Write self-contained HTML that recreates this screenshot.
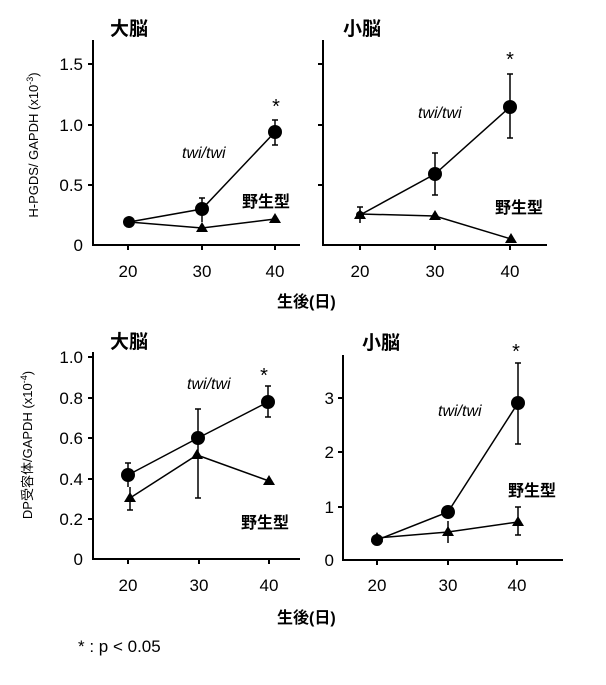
<!DOCTYPE html><html><head><meta charset="utf-8"><style>body{margin:0;background:#fff}svg{display:block}text{font-family:"Liberation Sans","Noto Sans CJK JP",sans-serif;fill:#000}</style></head><body>
<svg width="606" height="685" viewBox="0 0 606 685">
<g stroke="#000" fill="none" stroke-width="2">
<path d="M93 40V245H300"/><path d="M323 40V245H547"/>
<path d="M93 352V559H300"/><path d="M343 355V560H563"/>
<path d="M88 64h5M88 125h5M88 185h5M128 245v5M202 245v5M275 245v5" />
<path d="M318 64h5M318 125h5M318 185h5M360 245v5M435 245v5M510 245v5"/>
<path d="M88 357h5M88 398h5M88 438h5M88 479h5M88 519h5M128 559v5M199 559v5M269 559v5"/>
<path d="M338 398h5M338 452h5M338 507h5M377 560v5M448 560v5M517 560v5"/>
</g>
<g stroke="#000" fill="none" stroke-width="1.5">
<polyline points="129,222 202,209 275,132"/><polyline points="129,222 202,228 275,219"/>
<path d="M202 198v24M199 198h6M275 120v25M272 120h6M272 145h6"/>
<polyline points="360,215 435,174 510,107"/><polyline points="360,214 435,216 511,239"/>
<path d="M435 153v42M432 153h6M432 195h6M510 74v64M507 74h6M507 138h6M360 207v16M357 207h6"/>
<polyline points="128,475 198,438 268,402"/><polyline points="130,498 197,455 269,481"/>
<path d="M128 463v24M125 463h6M198 409v89M195 409h6M195 498h6M268 386v31M265 386h6M265 417h6M130 487v23M127 510h6"/>
<polyline points="377,540 448,512 518,403"/><polyline points="377,538 448,532 518,522"/>
<path d="M518 363v81M515 363h6M515 444h6M448 521v22M518 507v28M515 507h6M515 535h6"/>
</g>
<g fill="#000">
<circle cx="129" cy="222" r="6"/><circle cx="202" cy="209" r="7"/><circle cx="275" cy="132" r="7"/>
<polygon points="202,222 208,232 196,232"/><polygon points="275,213 281,223 269,223"/>
<circle cx="360" cy="215" r="4"/><circle cx="435" cy="174" r="7"/><circle cx="510" cy="107" r="7"/>
<polygon points="360,209 366,219 354,219"/><polygon points="435,210 441,220 429,220"/><polygon points="511,233 517,243 505,243"/>
<circle cx="128" cy="475" r="7"/><circle cx="198" cy="438" r="7"/><circle cx="268" cy="402" r="7"/>
<polygon points="130,492 136,502 124,502"/><polygon points="197,449 203,459 191,459"/><polygon points="269,475 275,485 263,485"/>
<circle cx="377" cy="540" r="6"/><circle cx="448" cy="512" r="7"/><circle cx="518" cy="403" r="7"/>
<polygon points="377,532 383,542 371,542"/><polygon points="448,526 454,536 442,536"/><polygon points="518,516 524,526 512,526"/>
</g>
<g font-size="17" text-anchor="end">
<text x="83" y="70">1.5</text><text x="83" y="131">1.0</text><text x="83" y="191">0.5</text><text x="83" y="251">0</text>
<text x="83" y="363">1.0</text><text x="83" y="404">0.8</text><text x="83" y="444">0.6</text><text x="83" y="485">0.4</text><text x="83" y="525">0.2</text><text x="83" y="565">0</text>
<text x="334" y="404">3</text><text x="334" y="458">2</text><text x="334" y="513">1</text><text x="334" y="566">0</text>
</g>
<g font-size="17" text-anchor="middle">
<text x="128" y="277">20</text><text x="202" y="277">30</text><text x="275" y="277">40</text>
<text x="360" y="277">20</text><text x="435" y="277">30</text><text x="510" y="277">40</text>
<text x="128" y="591">20</text><text x="199" y="591">30</text><text x="269" y="591">40</text>
<text x="377" y="591">20</text><text x="448" y="591">30</text><text x="517" y="591">40</text>
</g>
<g font-size="19" font-weight="bold">
<text x="110" y="35">大脳</text><text x="343" y="35">小脳</text>
<text x="110" y="348">大脳</text><text x="362" y="349">小脳</text>
</g>
<g font-size="16" font-weight="bold">
<text x="242" y="207">野生型</text><text x="495" y="213">野生型</text>
<text x="241" y="528">野生型</text><text x="508" y="496">野生型</text>
<text x="277" y="307">生後(日)</text><text x="277" y="623">生後(日)</text>
</g>
<g font-size="16" font-style="italic">
<text x="182" y="158">twi/twi</text><text x="418" y="118">twi/twi</text>
<text x="187" y="389">twi/twi</text><text x="438" y="416">twi/twi</text>
</g>
<g font-size="20" text-anchor="middle"><text x="276" y="113">*</text><text x="510" y="66">*</text><text x="264" y="382">*</text><text x="516" y="358">*</text></g>
<text x="78" y="652" font-size="17">* : p &lt; 0.05</text>
<text transform="translate(38,145) rotate(-90)" font-size="13" text-anchor="middle">H-PGDS/ GAPDH (x10<tspan font-size="9" dy="-5">-3</tspan><tspan dy="5">)</tspan></text>
<text transform="translate(32,445) rotate(-90)" font-size="13" text-anchor="middle">DP受容体/GAPDH (x10<tspan font-size="9" dy="-5">-4</tspan><tspan dy="5">)</tspan></text>
</svg></body></html>
